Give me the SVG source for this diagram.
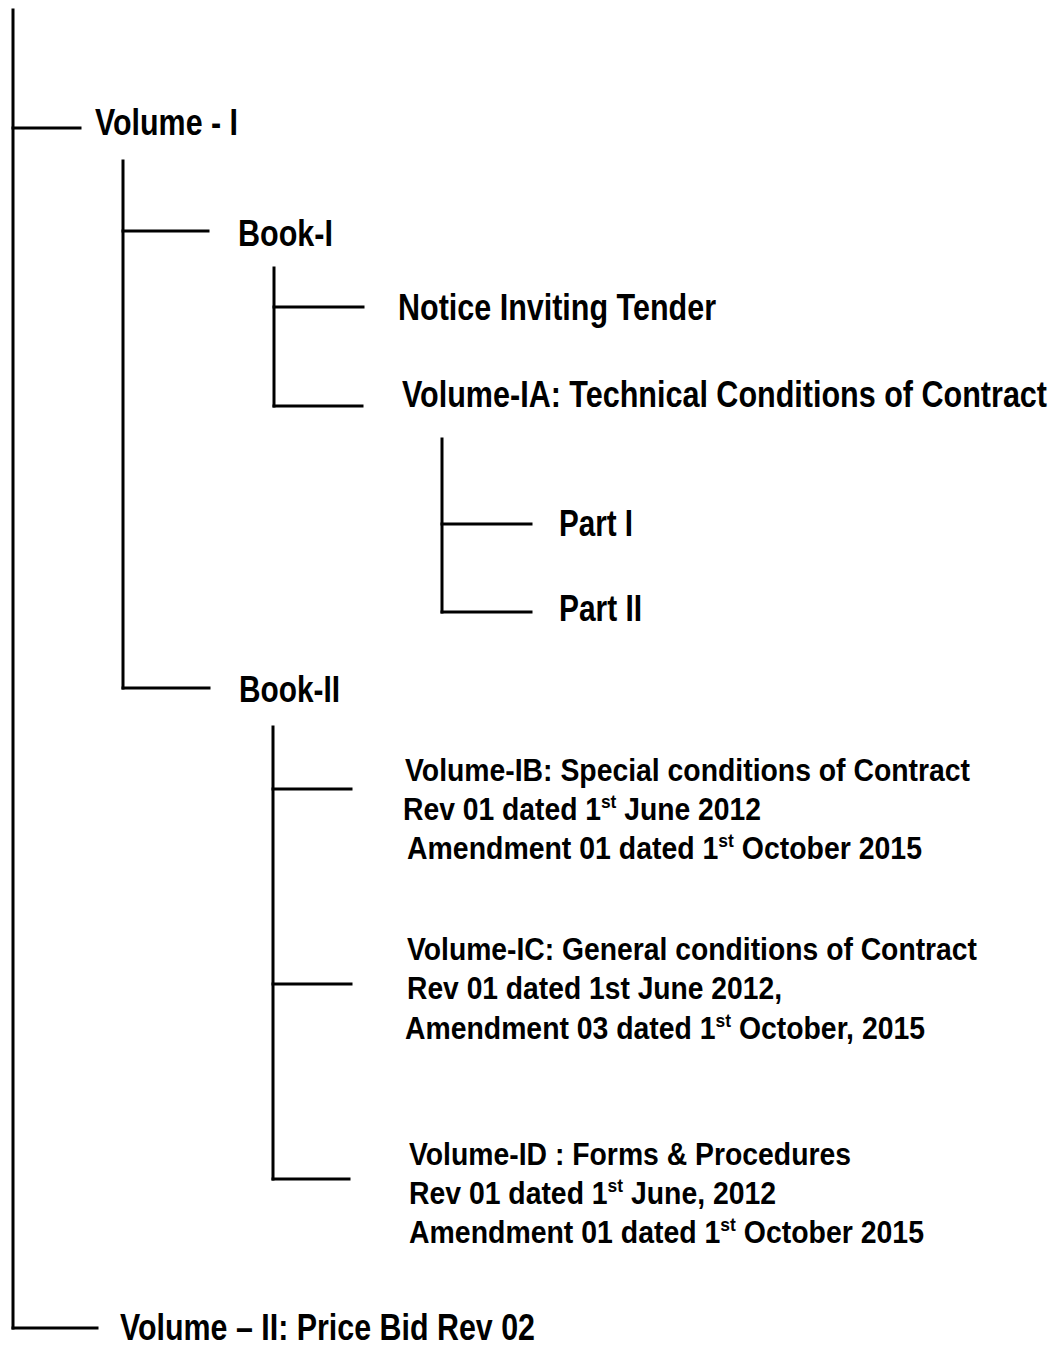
<svg xmlns="http://www.w3.org/2000/svg" width="1059" height="1345" viewBox="0 0 1059 1345">
<style>
.c line{stroke:#000;stroke-width:3;stroke-linecap:square}
text{font-family:"Liberation Sans Narrow","Liberation Sans",Arial,sans-serif;font-weight:bold;fill:#000}
.L{font-size:37px}
.S{font-size:31px}
.sup{font-size:19px}
</style>
<rect width="1059" height="1345" fill="#fff"/>
<g id="connectors" class="c">
<line x1="13" y1="10" x2="13" y2="1328"/>
<line x1="13" y1="128" x2="80" y2="128"/>
<line x1="13" y1="1328" x2="97" y2="1328"/>
<line x1="123" y1="161" x2="123" y2="688"/>
<line x1="123" y1="231" x2="208" y2="231"/>
<line x1="123" y1="688" x2="209" y2="688"/>
<line x1="274" y1="268" x2="274" y2="406"/>
<line x1="274" y1="307" x2="363" y2="307"/>
<line x1="274" y1="406" x2="362" y2="406"/>
<line x1="442" y1="439" x2="442" y2="612"/>
<line x1="442" y1="524" x2="531" y2="524"/>
<line x1="442" y1="612" x2="531" y2="612"/>
<line x1="273" y1="727" x2="273" y2="1179"/>
<line x1="273" y1="789" x2="351" y2="789"/>
<line x1="273" y1="984" x2="351" y2="984"/>
<line x1="273" y1="1179" x2="349" y2="1179"/>
</g>
<g id="volume1"><text class="L" x="95" y="135" textLength="143" lengthAdjust="spacingAndGlyphs">Volume - I</text></g>
<g id="book1"><text class="L" x="238" y="246" textLength="95" lengthAdjust="spacingAndGlyphs">Book-I</text></g>
<g id="nit"><text class="L" x="398" y="320" textLength="318" lengthAdjust="spacingAndGlyphs">Notice Inviting Tender</text></g>
<g id="volume1a"><text class="L" x="402" y="407" textLength="645" lengthAdjust="spacingAndGlyphs">Volume-IA: Technical Conditions of Contract</text></g>
<g id="part1"><text class="L" x="559" y="536" textLength="74" lengthAdjust="spacingAndGlyphs">Part I</text></g>
<g id="part2"><text class="L" x="559" y="621" textLength="83" lengthAdjust="spacingAndGlyphs">Part II</text></g>
<g id="book2"><text class="L" x="239" y="702" textLength="101" lengthAdjust="spacingAndGlyphs">Book-II</text></g>
<g id="volume1b">
<text class="S" x="405" y="781" textLength="565" lengthAdjust="spacingAndGlyphs">Volume-IB: Special conditions of Contract</text>
<text class="S" x="403" y="820" textLength="358" lengthAdjust="spacingAndGlyphs">Rev 01 dated 1<tspan class="sup" dy="-12">st</tspan><tspan dy="12"> June 2012</tspan></text>
<text class="S" x="407" y="859" textLength="515" lengthAdjust="spacingAndGlyphs">Amendment 01 dated 1<tspan class="sup" dy="-12">st</tspan><tspan dy="12"> October 2015</tspan></text>
</g>
<g id="volume1c">
<text class="S" x="407" y="960" textLength="570" lengthAdjust="spacingAndGlyphs">Volume-IC: General conditions of Contract</text>
<text class="S" x="407" y="999" textLength="375" lengthAdjust="spacingAndGlyphs">Rev 01 dated 1st June 2012,</text>
<text class="S" x="405" y="1039" textLength="520" lengthAdjust="spacingAndGlyphs">Amendment 03 dated 1<tspan class="sup" dy="-12">st</tspan><tspan dy="12"> October, 2015</tspan></text>
</g>
<g id="volume1d">
<text class="S" x="409" y="1165" textLength="442" lengthAdjust="spacingAndGlyphs">Volume-ID : Forms &amp; Procedures</text>
<text class="S" x="409" y="1204" textLength="367" lengthAdjust="spacingAndGlyphs">Rev 01 dated 1<tspan class="sup" dy="-12">st</tspan><tspan dy="12"> June, 2012</tspan></text>
<text class="S" x="409" y="1243" textLength="515" lengthAdjust="spacingAndGlyphs">Amendment 01 dated 1<tspan class="sup" dy="-12">st</tspan><tspan dy="12"> October 2015</tspan></text>
</g>
<g id="volume2"><text class="L" x="120" y="1340" textLength="415" lengthAdjust="spacingAndGlyphs">Volume – II: Price Bid Rev 02</text></g>
</svg>
